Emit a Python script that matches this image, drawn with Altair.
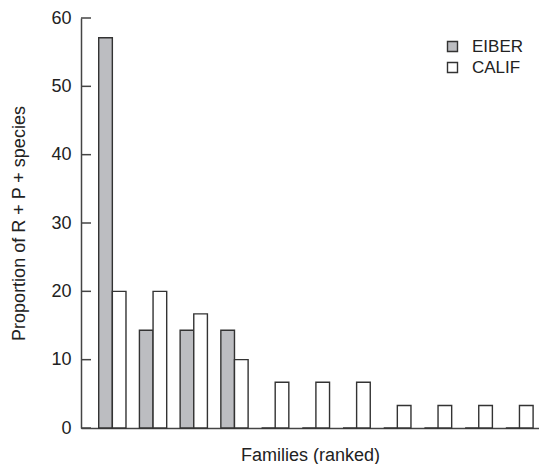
import altair as alt
import pandas as pd

families = [f"F{i}" for i in range(1, 12)]
eiber = [57.1, 14.3, 14.3, 14.3, 0, 0, 0, 0, 0, 0, 0]
calif = [20, 20, 16.7, 10, 6.7, 6.7, 6.7, 3.3, 3.3, 3.3, 3.3]
series = ["EIBER", "CALIF"]
series_colors = ["#bcbdc1", "#ffffff"]
y_ticks = [0, 10, 20, 30, 40, 50, 60]

rows = []
for f, e, c in zip(families, eiber, calif):
    rows.append({"family": f, "series": "EIBER", "value": e})
    rows.append({"family": f, "series": "CALIF", "value": c})
df = pd.DataFrame(rows)
ticks_df = pd.DataFrame({"t": y_ticks})

FONT = "Liberation Sans"
TXT = "#222222"
AX = "#444444"

yscale = alt.Scale(domain=[0, 60], nice=False, zero=True)

bars = alt.Chart(df).mark_bar(stroke="#333333", strokeWidth=1.4).encode(
    x=alt.X(
        "family:N",
        sort=families,
        scale=alt.Scale(paddingInner=0.33, paddingOuter=0.29, align=0.75),
        axis=alt.Axis(labels=False, ticks=False, title="Families (ranked)",
                      titlePadding=18, domainColor=AX, domainWidth=1.5),
    ),
    xOffset=alt.XOffset("series:N", sort=series, scale=alt.Scale(paddingInner=0, paddingOuter=0)),
    y=alt.Y(
        "value:Q",
        scale=yscale,
        axis=alt.Axis(values=y_ticks, ticks=False, labelPadding=10, title="Proportion of R + P + species",
                      titlePadding=22, grid=False, domainColor=AX, domainWidth=1.5),
    ),
    fill=alt.Fill(
        "series:N",
        sort=series,
        scale=alt.Scale(domain=series, range=series_colors),
        legend=alt.Legend(
            title=None, orient="none", legendX=363, legendY=20,
            symbolType="square", symbolSize=100, symbolStrokeColor="#333333",
            symbolStrokeWidth=1.4, labelOffset=11, padding=0, rowPadding=3,
            labelFontSize=17, labelFont=FONT, labelColor=TXT,
        ),
    ),
)

tick_rules = alt.Chart(ticks_df).mark_rule(color=AX, strokeWidth=1.5).encode(
    y=alt.Y("t:Q", scale=yscale),
    x=alt.value(0),
    x2=alt.value(10),
)

chart = alt.layer(bars, tick_rules).properties(
    width=458,
    height=410,
    padding={"left": 73, "top": 10, "right": 0, "bottom": 36},
    autosize=alt.AutoSizeParams(type="none"),
).configure_view(stroke=None).configure_axis(
    labelFont=FONT, titleFont=FONT, labelFontSize=18, titleFontSize=18,
    labelColor=TXT, titleColor=TXT, titleFontWeight="normal",
)

chart.save("out.html", embed_options={"renderer": "svg", "actions": False})
